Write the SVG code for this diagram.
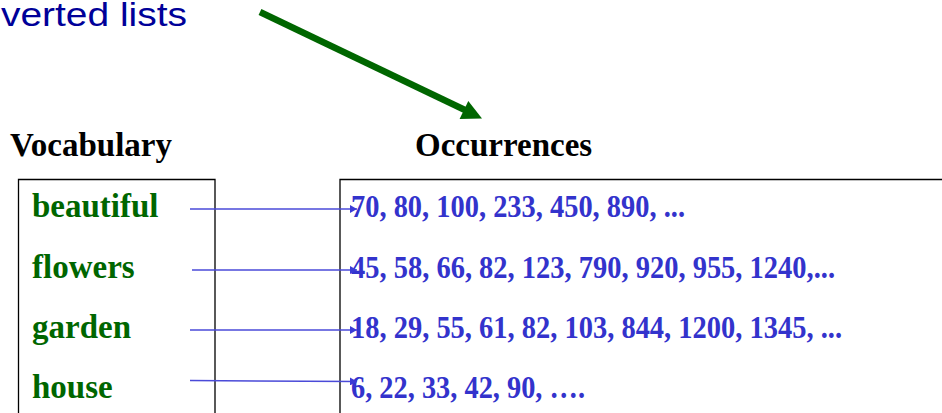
<svg xmlns="http://www.w3.org/2000/svg" width="942" height="413" viewBox="0 0 942 413">
  <defs>
    <marker id="blueHead" markerWidth="8" markerHeight="8" refX="7" refY="4" orient="auto" markerUnits="userSpaceOnUse">
      <path d="M0,0 L7,4 L0,8 Z" fill="#3b3bd6"/>
    </marker>
    <style>
      .title { font-family: "Liberation Serif", "Times New Roman", serif; font-weight: bold; font-size: 33px; fill: #000000; }
      .word { font-family: "Liberation Serif", "Times New Roman", serif; font-weight: bold; font-size: 33px; fill: #006600; }
      .nums { font-family: "Liberation Serif", "Times New Roman", serif; font-weight: bold; font-size: 30.5px; fill: #3333cc; }
      .box { fill: none; stroke: #000000; stroke-width: 1.3; }
      .link { stroke: #4a4ad8; stroke-width: 1.5; fill: none; marker-end: url(#blueHead); }
    </style>
  </defs>
  <rect width="942" height="413" fill="#ffffff"/>

  <text x="1" y="26" font-family="'Liberation Sans', Arial, sans-serif" font-size="33" fill="#000099" textLength="186" lengthAdjust="spacingAndGlyphs">verted lists</text>

  <g id="pointer-arrow">
    <line x1="260" y1="12" x2="466" y2="110.5" stroke="#006600" stroke-width="6.5"/>
    <polygon points="482,118.5 459.6,118.9 468.3,100.9" fill="#006600"/>
  </g>

  <text class="title" x="10" y="156">Vocabulary</text>
  <text class="title" x="415" y="156">Occurrences</text>

  <g id="vocabulary">
    <path class="box" d="M18.5,420 V179.5 H215 V420"/>
    <g id="v-beautiful"><text class="word" x="32" y="217">beautiful</text></g>
    <g id="v-flowers"><text class="word" x="32" y="278">flowers</text></g>
    <g id="v-garden"><text class="word" x="32" y="338">garden</text></g>
    <g id="v-house"><text class="word" x="32" y="398">house</text></g>
  </g>

  <g id="occurrences">
    <path class="box" d="M340,420 V179.5 H950"/>
    <g id="o-beautiful"><text class="nums" x="351" y="217" textLength="334" lengthAdjust="spacingAndGlyphs">70, 80, 100, 233, 450, 890, ...</text></g>
    <g id="o-flowers"><text class="nums" x="351" y="278" textLength="484" lengthAdjust="spacingAndGlyphs">45, 58, 66, 82, 123, 790, 920, 955, 1240,...</text></g>
    <g id="o-garden"><text class="nums" x="351" y="338" textLength="491" lengthAdjust="spacingAndGlyphs">18, 29, 55, 61, 82, 103, 844, 1200, 1345, ...</text></g>
    <g id="o-house"><text class="nums" x="351" y="398" textLength="234" lengthAdjust="spacingAndGlyphs">6, 22, 33, 42, 90, ….</text></g>
  </g>

  <g id="connectors">
    <line class="link" x1="190" y1="209" x2="357" y2="209"/>
    <line class="link" x1="192" y1="270" x2="357" y2="270"/>
    <line class="link" x1="190" y1="330" x2="357" y2="330"/>
    <line class="link" x1="190" y1="380.5" x2="357" y2="381.5"/>
  </g>
</svg>
